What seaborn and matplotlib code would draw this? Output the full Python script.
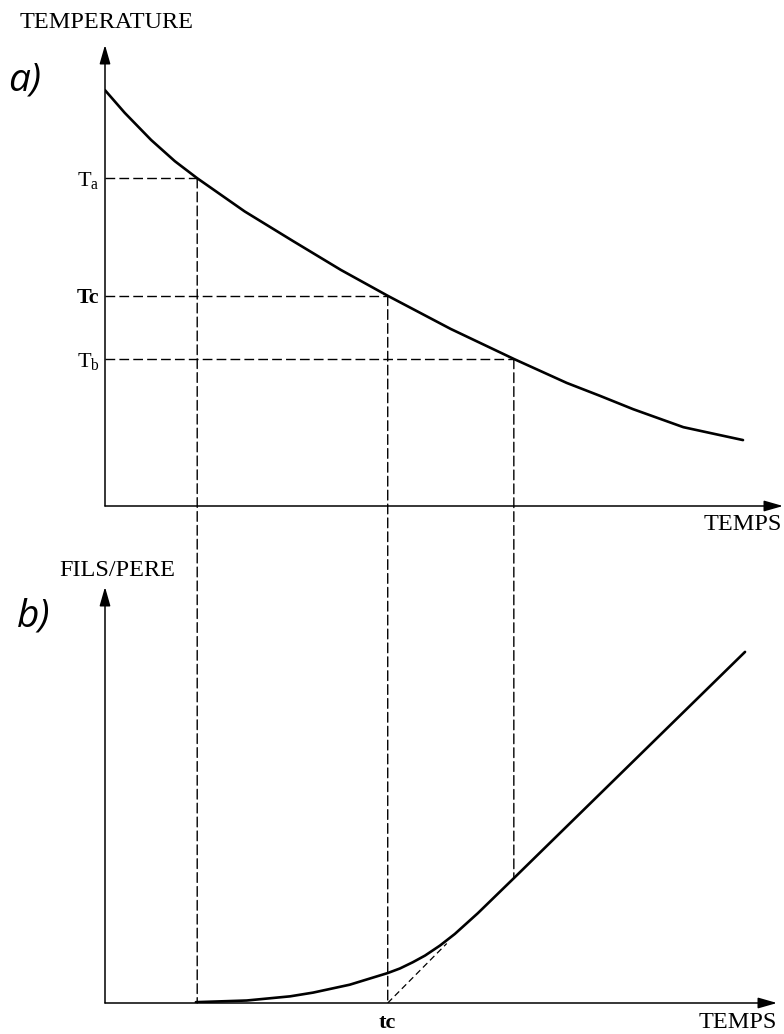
import matplotlib
matplotlib.use("Agg")
import matplotlib.pyplot as plt
import seaborn as sns
from matplotlib.patches import ConnectionPatch

# courbe a) : temperature en fonction du temps
temps_a = [0.0, 0.29, 0.68, 1.03, 1.36, 2.06, 2.77, 3.48, 4.17, 5.10, 6.03,
           6.81, 7.30, 7.79, 8.53, 9.00, 9.41]
temperature = [9.02, 8.53, 7.94, 7.48, 7.11, 6.39, 5.75, 5.12, 4.56, 3.84, 3.19,
               2.67, 2.39, 2.10, 1.71, 1.56, 1.43]

# courbe b) : rapport fils/pere en fonction du temps
temps_b = [1.34, 2.09, 2.73, 3.07, 3.61, 4.17, 4.35, 4.54, 4.72, 4.94, 5.16,
           5.50, 6.03, 9.44]
fils_pere = [0.02, 0.06, 0.16, 0.25, 0.44, 0.72, 0.83, 0.98, 1.14, 1.38, 1.66,
             2.16, 3.00, 8.44]

# tangente (prolongement de la partie lineaire jusqu'a tc)
tangente_t = [4.17, 5.04]
tangente_r = [0.0, 1.43]

# points remarquables
t_points = [1.36, 4.17, 6.03]
T_points = [7.11, 4.56, 3.19]
r_points = [0.0, 0.0, 3.00]
T_labels = ["T$_\\mathrm{a}$", "Tc", "T$_\\mathrm{b}$"]
tc_label = "tc"

sns.set_theme(style="white")
plt.rcParams["font.family"] = ["Liberation Serif", "DejaVu Serif"]
plt.rcParams["mathtext.fontset"] = "custom"
plt.rcParams["mathtext.rm"] = "Liberation Serif"
plt.rcParams["text.color"] = "black"
plt.rcParams["xtick.color"] = "black"
plt.rcParams["ytick.color"] = "black"

W, H = 784, 1034
fig = plt.figure(figsize=(W / 100, H / 100), dpi=100)
px = 67.8  # pixels par unite de temps
ax_a = fig.add_axes([105 / W, 1 - 506 / H, 678 / W, (506 - 45) / H])
ax_b = fig.add_axes([105 / W, 1 - 1003 / H, 672 / W, (1003 - 587) / H])
ax_a.set_xlim(0, 678 / px)
ax_b.set_xlim(0, 672 / px)
ax_a.set_ylim(0, 10)
ax_b.set_ylim(0, 10)

dash = (0, (7, 3))

for ax in (ax_a, ax_b):
    for s in ax.spines.values():
        s.set_visible(False)
    ax.patch.set_alpha(0)
    for xy in [(1, 0), (0, 1)]:
        ax.annotate("", xy=xy, xytext=(0, 0), xycoords="axes fraction",
                    textcoords="axes fraction",
                    arrowprops=dict(arrowstyle="-|>,head_length=1.15,head_width=0.33",
                                    color="black", lw=1.1, shrinkA=0, shrinkB=0,
                                    mutation_scale=10))

sns.lineplot(x=temps_a, y=temperature, color="black", linewidth=1.9, ax=ax_a)
sns.lineplot(x=temps_b, y=fils_pere, color="black", linewidth=1.9, ax=ax_b)
ax_b.plot(tangente_t, tangente_r, color="black", lw=0.9, ls=(0, (5, 3)))

for t, T, r in zip(t_points, T_points, r_points):
    ax_a.plot([0, t], [T, T], color="black", lw=1.0, ls=dash)
    con = ConnectionPatch(xyA=(t, T), coordsA=ax_a.transData,
                          xyB=(t, r), coordsB=ax_b.transData,
                          color="black", lw=1.0, linestyle=dash)
    fig.add_artist(con)

ax_a.set_xticks([])
ax_a.set_yticks(T_points, T_labels, fontsize=16)
ax_a.tick_params(axis="y", length=0, pad=4)
ax_a.get_yticklabels()[1].set_fontweight("bold")
ax_a.set_xlabel("")
ax_a.set_ylabel("")

ax_b.set_yticks([])
ax_b.set_xticks([t_points[1]], [tc_label], fontsize=16, fontweight="bold")
ax_b.tick_params(axis="x", length=0, pad=7)
ax_b.set_xlabel("")
ax_b.set_ylabel("")

fs = 17.5
fig.text(107 / W, 1 - 22 / H, "TEMPERATURE", ha="center", va="center", fontsize=fs)
fig.text(782 / W, 1 - 525 / H, "TEMPS", ha="right", va="center", fontsize=fs)
fig.text(117 / W, 1 - 570 / H, "FILS/PERE", ha="center", va="center", fontsize=fs)
fig.text(777 / W, 1 - 1023 / H, "TEMPS", ha="right", va="center", fontsize=fs)

fig.text(25 / W, 1 - 81 / H, "a)", ha="center", va="center", fontsize=28,
         style="italic", family=["Open Sans", "DejaVu Sans"])
fig.text(34 / W, 1 - 616 / H, "b)", ha="center", va="center", fontsize=28,
         style="italic", family=["Open Sans", "DejaVu Sans"])

fig.savefig("out.png", dpi=100)
